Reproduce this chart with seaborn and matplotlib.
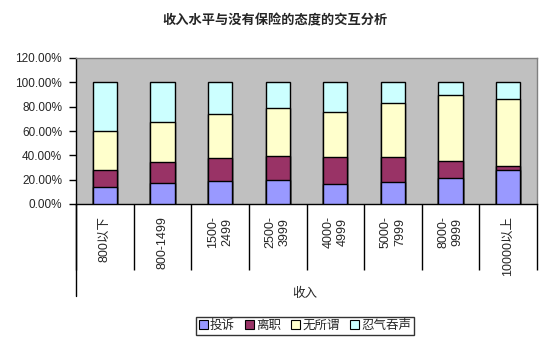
import numpy as np
import pandas as pd
import matplotlib
matplotlib.use("Agg")
import matplotlib.pyplot as plt
from matplotlib.patches import Patch
from matplotlib.ticker import PercentFormatter, FixedLocator
import seaborn as sns

categories = ["800以下", "800-1499", "1500-\n2499", "2500-\n3999", "4000-\n4999",
              "5000-\n7999", "8000-\n9999", "10000以上"]
series_names = ["投诉", "离职", "无所谓", "忍气吞声"]
complain = [13.8, 17.1, 18.8, 19.6, 16.3, 18.0, 21.3, 27.9]
resign = [14.1, 17.4, 19.0, 20.2, 22.4, 20.7, 14.1, 3.6]
indifferent = [32.0, 33.2, 36.5, 39.5, 37.3, 44.7, 53.8, 55.2]
endure = [40.1, 32.3, 25.7, 20.7, 24.0, 16.6, 10.8, 13.3]
colors = ["#9999FF", "#993366", "#FFFFCC", "#CCFFFF"]

title = "收入水平与没有保险的态度的交互分析"
xlabel = "收入"

sns.set_style("white")
plt.rcParams["font.family"] = ["Liberation Sans", "Noto Sans CJK SC", "DejaVu Sans"]

values = np.array([complain, resign, indifferent, endure])
cum = np.cumsum(values, axis=0)

fig = plt.figure(figsize=(5.54, 3.4), dpi=100)
ax = fig.add_axes([76/554, 1-204/340, (537-76)/554, 146/340])
ax.set_facecolor("#C0C0C0")

# draw from the top layer down so each stacked segment shows
for i in range(3, -1, -1):
    df = pd.DataFrame({"cat": categories, "val": cum[i]})
    sns.barplot(data=df, x="cat", y="val", color=colors[i], saturation=1,
                edgecolor="black", linewidth=1.0, width=0.42, ax=ax, zorder=3)

ax.set_xlim(-0.5, len(categories) - 0.5)
ax.set_ylim(0, 120)
ax.yaxis.set_major_locator(FixedLocator([0, 20, 40, 60, 80, 100, 120]))
ax.yaxis.set_major_formatter(PercentFormatter(xmax=100, decimals=2))
ax.tick_params(axis="y", which="major", left=True, length=5, width=1,
               direction="out", color="black", labelsize=8.5, pad=5)

ax.set_xticks(range(len(categories)))
ax.set_xticklabels(categories, rotation=90, fontsize=9, linespacing=1.25)
ax.tick_params(axis="x", which="major", length=0, pad=9)
ax.set_xticks(np.arange(-0.5, len(categories), 1.0), minor=True)
ax.tick_params(axis="x", which="minor", bottom=True, length=47.5, width=1,
               direction="out", color="black")

for s in ["top", "right"]:
    ax.spines[s].set_color("#808080")
    ax.spines[s].set_linewidth(1)
for s in ["left", "bottom"]:
    ax.spines[s].set_color("black")
    ax.spines[s].set_linewidth(1)

ax.axvline(-0.5, ymin=-0.63, ymax=0, color="black", lw=1, clip_on=False)

ax.set_ylabel("")
ax.set_xlabel(xlabel, fontsize=9)
ax.xaxis.set_label_coords(0.497, -0.575)

fig.text(275/554, 1-21/340, title, ha="center", va="center",
         fontsize=9.5, fontweight="bold")

handles = [Patch(facecolor=c, edgecolor="black", linewidth=0.8) for c in colors]
leg = fig.legend(handles, series_names, loc="center", bbox_to_anchor=(305/554, 1-326/340),
                 ncol=4, frameon=True, fancybox=False, fontsize=9,
                 handlelength=0.7, handleheight=0.7, handletextpad=0.2,
                 columnspacing=0.8, borderpad=0.25, borderaxespad=0)
leg.get_frame().set_edgecolor("black")
leg.get_frame().set_linewidth(1)

fig.savefig("out.png", dpi=100)
